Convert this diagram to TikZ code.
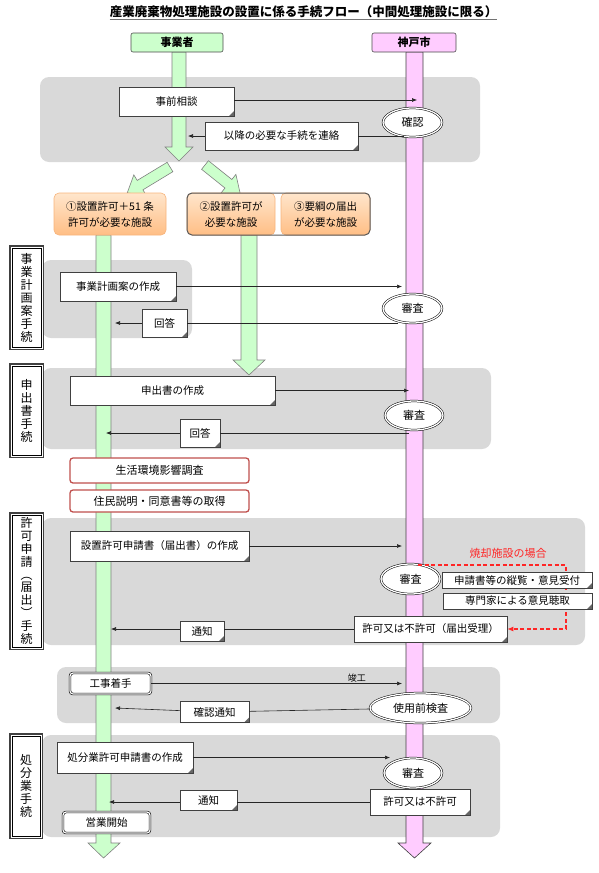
\documentclass[tikz,border=0pt]{standalone}
\usepackage{fontspec}
\setmainfont{Noto Sans CJK JP}
\usetikzlibrary{arrows.meta,shapes.geometric,calc}
\definecolor{gfill}{HTML}{CCFFCC}
\definecolor{pfill}{HTML}{FFCCFF}
\definecolor{rgray}{HTML}{D9D9D9}
\definecolor{otop}{HTML}{FFE6CC}
\definecolor{obot}{HTML}{FFBE85}
\definecolor{oedge}{HTML}{F7B47C}
\definecolor{redb}{HTML}{C0504D}
\definecolor{redt}{HTML}{FF2626}
\begin{document}
\begin{tikzpicture}[x=1pt,y=-1pt,
  wh/.style 2 args={minimum width=#1pt, minimum height=#2pt},
  region/.style={fill=rgray, rounded corners=9pt},
  gbar/.style={fill=gfill, draw=black!50, line width=0.6pt, line join=miter},
  pbar/.style={fill=pfill, draw=black!75, line width=0.6pt, line join=miter},
  hdr/.style={rectangle, rounded corners=2pt, draw=black!70, line width=0.6pt, inner sep=0pt, font=\bfseries\fontsize{11}{12}\selectfont},
  note/.style={rectangle, draw=black!75, fill=white, line width=0.5pt, inner sep=1pt, font=\fontsize{10.5}{12}\selectfont,
    path picture={\fill[black!60] (path picture bounding box.south east) -- ++(-5pt,0pt) -- ++(5pt,5pt) -- cycle;}},
  ell/.style={ellipse, draw=black, double=white, double distance=1.3pt, line width=0.5pt, fill=white, inner sep=0pt, font=\fontsize{11}{12}\selectfont},
  lbl/.style={rectangle, fill=white, inner sep=0pt, align=center, font=\fontsize{12}{13}\selectfont},
  lblouter/.style={draw=black!75, line width=1.4pt},
  lblinner/.style={draw=black, line width=0.5pt},
  dbox/.style={rectangle, rounded corners=3pt, draw=black, double=white, double distance=1.2pt, line width=0.6pt, fill=white, inner sep=0pt, font=\fontsize{10.5}{12}\selectfont},
  redbox/.style={rectangle, rounded corners=3pt, draw=redb, line width=1.3pt, fill=white, inner sep=0pt, font=\fontsize{11}{12}\selectfont},
  obox/.style={rectangle, rounded corners=5pt, top color=otop, bottom color=obot, draw=oedge, line width=0.6pt, align=center, inner sep=0pt, font=\fontsize{10.5}{16}\selectfont},
  arr/.style={draw=black!85, line width=0.6pt, -{Latex[length=5pt,width=4pt]}},
  reddash/.style={draw=redt, line width=1.3pt, dash pattern=on 4pt off 2.5pt, -{Latex[length=6pt,width=5pt]}}
]
\useasboundingbox (0,0) rectangle (599,873);

% title
\node[inner sep=0pt, font=\bfseries\fontsize{12.5}{14}\selectfont] (title) at (303.5,11.5) {産業廃棄物処理施設の設置に係る手続フロー（中間処理施設に限る）};
\draw[black!55, line width=1.3pt] ([yshift=-1.5pt]title.south west) -- ([yshift=-1.5pt]title.south east);

% gray regions
\fill[region] (40,77) rectangle (480,162);
\fill[region] (42,260) rectangle (192,338);
\fill[region] (42,368) rectangle (491,449);
\fill[region] (42,518) rectangle (585,645);
\fill[region] (57,667) rectangle (500,723);
\fill[region] (42,735) rectangle (500,837);

% bars
\draw[gbar] (172,52) -- (186,52) -- (186,147) -- (193,147) -- (179,161) -- (165,147) -- (172,147) -- cycle;
\draw[gbar] (96,235) -- (111,235) -- (111,843) -- (120,843) -- (103.5,858) -- (88,843) -- (96,843) -- cycle;
\draw[gbar] (241,235) -- (257,235) -- (257,360) -- (265,360) -- (249,375) -- (233,360) -- (241,360) -- cycle;
\draw[pbar] (406,52) -- (423,52) -- (423,843) -- (431,843) -- (414.5,858) -- (398,843) -- (406,843) -- cycle;

% diagonal block arrows
\begin{scope}[shift={(170,167)}, rotate=211.2]
  \draw[gbar] (0,-5.5) -- (35,-5.5) -- (35,-12) -- (50,0) -- (35,12) -- (35,5.5) -- (0,5.5) -- cycle;
\end{scope}
\begin{scope}[shift={(205,165)}, rotate=-38.7]
  \draw[gbar] (0,-5.5) -- (30,-5.5) -- (30,-12) -- (45,0) -- (30,12) -- (30,5.5) -- (0,5.5) -- cycle;
\end{scope}

% headers
\node[hdr, fill=gfill, wh={92}{19}] (jg) at (177,42.5) {事業者};
\node[hdr, fill=pfill, wh={84}{19}] (kobe) at (414,42.5) {神戸市};

% orange boxes
\node[obox, wh={112}{42}] (o1) at (110,214) {①設置許可＋51 条\\許可が必要な施設};
\node[obox, wh={88}{42}] (o2) at (231,214) {②設置許可が\\必要な施設};
\node[obox, wh={89}{42}] (o3) at (325.5,214) {③要綱の届出\\が必要な施設};
\node[draw=black!65, line width=1pt, rounded corners=5pt, wh={183}{42}, inner sep=0pt] (grp) at (278.5,214) {};

% left labels
\node[lbl, wh={33}{103}] (l1) at (26.5,297.5) {事\\業\\計\\画\\案\\手\\続};
\node[lbl, wh={33}{93}] (l2) at (26.5,410.5) {申\\出\\書\\手\\続};
\node[lbl, wh={33}{136}, font=\fontsize{12}{12.8}\selectfont] (l3) at (26.5,581) {許\\可\\申\\請\\︵\\届\\出\\︶\\手\\続};
\node[lbl, wh={32}{104}] (l4) at (26,786) {処\\分\\業\\手\\続};
\foreach \l in {l1,l2,l3,l4}{
  \draw[lblouter] (\l.north west) rectangle (\l.south east);
  \draw[lblinner] ([xshift=2.2pt,yshift=-2.2pt]\l.north west) rectangle ([xshift=-2.2pt,yshift=2.2pt]\l.south east);
}

% notes
\node[note, wh={115}{29}] (zen) at (176.5,101.5) {事前相談};
\node[note, wh={153}{28}] (renraku) at (281.5,136) {以降の必要な手続を連絡};
\node[note, wh={116}{29}] (keikaku) at (118,286.5) {事業計画案の作成};
\node[note, wh={45}{28}] (kaito1) at (164.5,323) {回答};
\node[note, wh={205}{29}] (moushide) at (172.5,390.5) {申出書の作成};
\node[note, wh={40}{28}] (kaito2) at (200,433) {回答};
\node[note, wh={179}{30}] (shinsei) at (159.5,546) {設置許可申請書（届出書）の作成};
\node[note, wh={153}{26}] (kyoka) at (430.5,629) {許可又は不許可（届出受理）};
\node[note, wh={44}{20}] (tsuchi1) at (202,631) {通知};
\node[note, wh={69}{21}] (kakut) at (214.5,712) {確認通知};
\node[note, wh={136}{31}] (shobun) at (125,757.5) {処分業許可申請書の作成};
\node[note, wh={100}{26}] (kyoka2) at (420,802) {許可又は不許可};
\node[note, wh={57}{20}] (tsuchi2) at (208.5,800) {通知};

% red boxes
\node[redbox, wh={179}{25}] (seikatsu) at (159.5,470.5) {生活環境影響調査};
\node[redbox, wh={179}{22}] (jumin) at (159.5,501) {住民説明・同意書等の取得};

% double boxes
\node[dbox, wh={81}{21}] (koji) at (110.5,683.5) {工事着手};
\node[dbox, wh={87}{21}] (eigyo) at (106.5,822.5) {営業開始};

% ellipses
\node[ell, wh={59}{29}] (kakunin) at (412.5,122.5) {確認};
\node[ell, wh={59}{29}] (shinsa1) at (412.5,308.5) {審査};
\node[ell, wh={58}{29}] (shinsa2) at (414,415.5) {審査};
\node[ell, wh={59}{30}] (shinsa3) at (410.5,579) {審査};
\node[ell, wh={101}{30}] (shiyou) at (420.5,708) {使用前検査};
\node[ell, wh={58}{30}] (shinsa4) at (413,773) {審査};

% red text
\node[text=redt, inner sep=0pt, font=\fontsize{11}{12}\selectfont] (shoukyaku) at (508,553) {焼却施設の場合};

% connector end points
\coordinate (p1) at (417,100);
\coordinate (p2) at (404,136);
\coordinate (g2) at (188,136);
\coordinate (p3) at (402,286.5);
\coordinate (p4) at (398,323);
\coordinate (g4) at (115,323);
\coordinate (p5) at (409,390.5);
\coordinate (p6) at (409,433);
\coordinate (g6) at (106,433);
\coordinate (p7) at (402,546);
\coordinate (g8) at (111,629);
\coordinate (p9) at (402,683.5);
\coordinate (g10) at (115,708);
\coordinate (p11) at (390,757.5);
\coordinate (g12) at (109,802);
\coordinate (r1) at (566,565);

% connectors
\draw[arr] (zen.east |- p1) -- (p1);
\draw[arr] (p2) -- (renraku) -- (g2);
\draw[arr] (keikaku) -- (p3);
\draw[arr] (p4) -- (kaito1) -- (g4);
\draw[arr] (moushide) -- (p5);
\draw[arr] (p6) -- (kaito2) -- (g6);
\draw[arr] (shinsei) -- (p7);
\draw[arr] (kyoka.west) -- (tsuchi1.east |- kyoka.west) (tsuchi1.west |- kyoka.west) -- (g8);
\draw[arr] (koji) -- node[above=1pt, pos=0.82, inner sep=0pt, font=\fontsize{9}{10}\selectfont] {竣工} (p9);
\draw[arr] (shiyou) -- (kakut) -- (g10);
\draw[arr] (shobun) -- (p11);
\draw[arr] (kyoka2.west) -- (tsuchi2.east |- kyoka2.west) (tsuchi2.west |- kyoka2.west) -- (g12);
\draw[reddash] (shinsa3.60) |- (r1) |- (kyoka.east);

% incineration sub-steps (drawn over the dashed line)
\node[note, wh={150}{16}] (juran) at (517,580) {申請書等の縦覧・意見受付};
\node[note, wh={149}{16}] (senmon) at (517.5,601) {専門家による意見聴取};
\end{tikzpicture}
\end{document}
